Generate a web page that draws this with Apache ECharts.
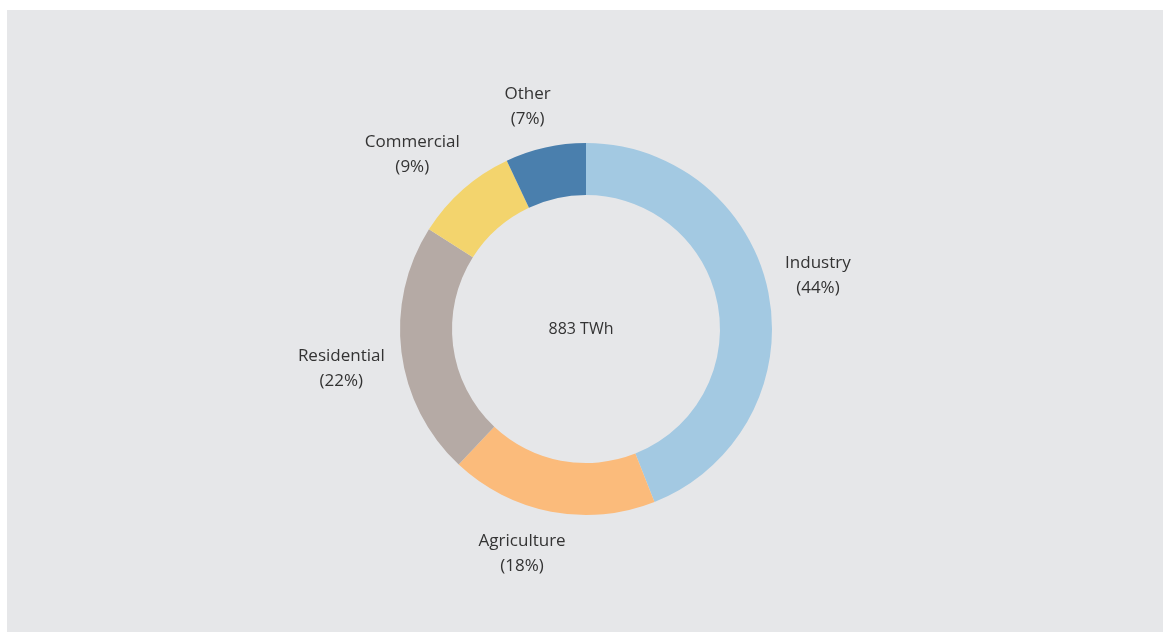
<!DOCTYPE html>
<html>
<head>
<meta charset="utf-8">
<script src="https://cdn.jsdelivr.net/npm/echarts@6/dist/echarts.min.js"></script>
<style>
  html, body { margin: 0; padding: 0; background: #ffffff; }
  #chart { position: absolute; left: 7px; top: 10px; width: 1156px; height: 622px; background: #e6e7e9; }
</style>
</head>
<body>
<div id="chart"></div>
<script>
// Electricity consumption by sector (shares, %)
const sectors = ['Industry', 'Agriculture', 'Residential', 'Commercial', 'Other'];
const shares = [44, 18, 22, 9, 7];
const sectorColors = ['#a3c9e2', '#fbbb7b', '#b5aaa5', '#f3d46d', '#4a7fad'];
const totalLabel = '883 TWh';

const ringCenter = [579, 319];
const innerR = 134;
const outerR = 186;
const labelGap = 17;
const fontStack = '"Open Sans", Lato, sans-serif';

const total = shares.reduce((a, b) => a + b, 0);
const cumBefore = shares.map((_, i) => shares.slice(0, i).reduce((a, b) => a + b, 0));

const chart = echarts.init(document.getElementById('chart'), null, { renderer: 'canvas' });

chart.setOption({
  backgroundColor: 'transparent',
  animation: false,
  graphic: [{
    type: 'text',
    x: ringCenter[0] - 5,
    y: ringCenter[1],
    style: {
      text: totalLabel, fill: '#333333', fontFamily: fontStack, fontSize: 16,
      align: 'center', verticalAlign: 'middle'
    }
  }],
  series: [{
    type: 'pie',
    center: ringCenter,
    radius: [innerR, outerR],
    startAngle: 90,
    clockwise: true,
    avoidLabelOverlap: false,
    itemStyle: { borderWidth: 0 },
    label: {
      show: true,
      position: 'outside',
      formatter: p => p.name + '\n(' + p.value + '%)',
      color: '#333333',
      fontFamily: fontStack,
      fontSize: 17,
      lineHeight: 25
    },
    labelLine: { show: false },
    // Place each two-line label just outside its slice, pushed out along the slice's mid-angle
    labelLayout: function (params) {
      const i = params.dataIndex;
      const a = (cumBefore[i] + shares[i] / 2) / total * 2 * Math.PI;
      const ux = Math.sin(a), uy = -Math.cos(a);
      const w = params.labelRect.width, h = params.labelRect.height;
      const r = outerR + labelGap;
      const fx = (ux + Math.sign(ux)) / 2, fy = (uy + Math.sign(uy)) / 2;
      return {
        x: ringCenter[0] + ux * r + fx * w / 2,
        y: ringCenter[1] + uy * r + fy * h / 2,
        align: 'center',
        verticalAlign: 'middle'
      };
    },
    data: sectors.map((name, i) => ({ name: name, value: shares[i], itemStyle: { color: sectorColors[i] } }))
  }]
});
</script>
</body>
</html>
